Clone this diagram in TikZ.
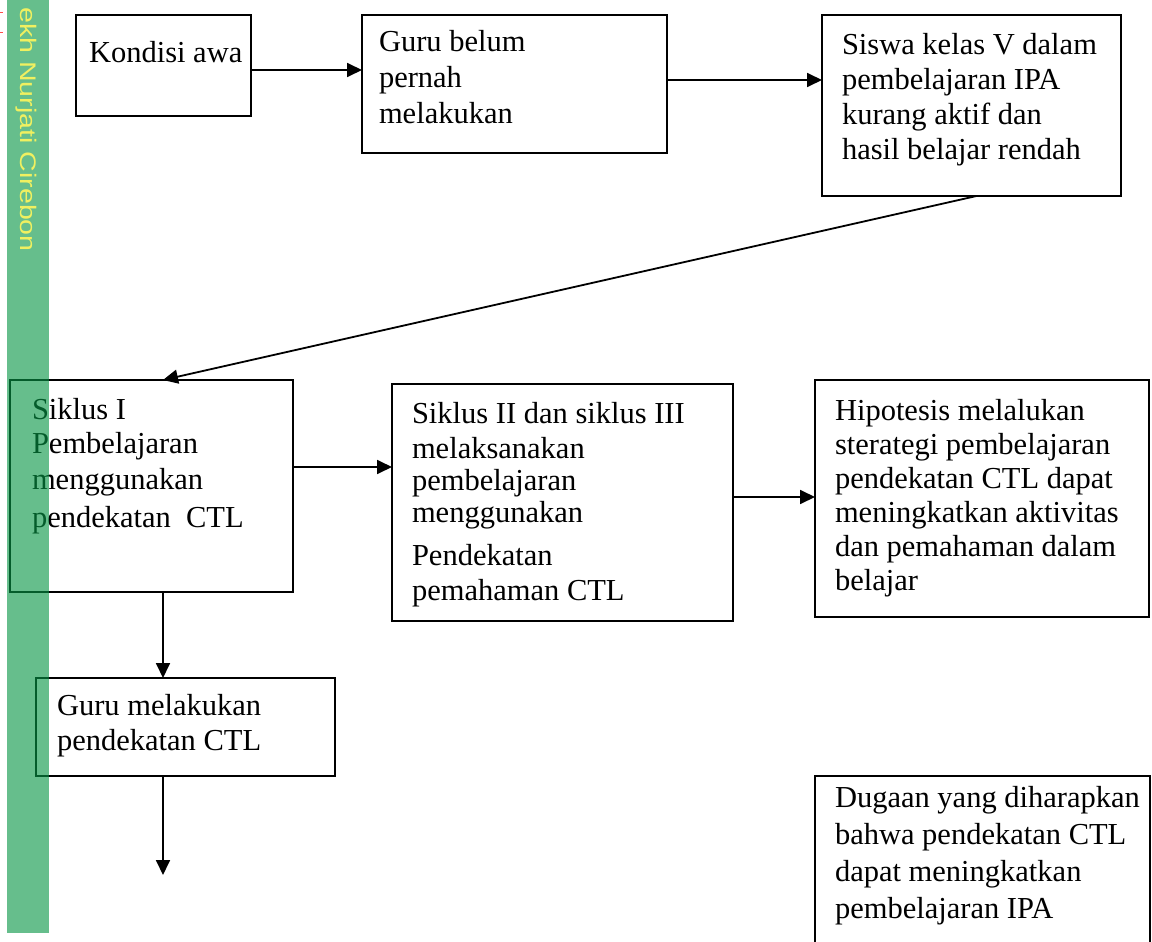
\documentclass[tikz,border=0pt]{standalone}
\usepackage{fontspec}
\setmainfont{Liberation Serif}
\setsansfont{Liberation Sans}
\usetikzlibrary{arrows.meta,calc}
\definecolor{barg}{RGB}{8,150,70}
\definecolor{wmy}{RGB}{240,240,96}
\newcommand{\boxtext}[1]{\parbox[t]{420pt}{\raggedright #1}}
\begin{document}
\begin{tikzpicture}[x=1pt,y=-1pt,
  box/.style={draw=black, line width=1.8pt, inner sep=0pt, outer sep=0pt, anchor=north west},
  txt/.style={anchor=base west, inner sep=0pt, outer sep=0pt, font=\fontsize{30.5}{35}\selectfont},
  arr/.style={line width=1.8pt, -{Triangle[length=15pt,width=14pt]}}]
\useasboundingbox (0,0) rectangle (1152,942);

% boxes
\node[box, minimum width=175pt, minimum height=101pt] (b1) at (76,15) {};
\node[box, minimum width=305pt, minimum height=138pt] (b2) at (362,15) {};
\node[box, minimum width=299pt, minimum height=181pt] (b3) at (822,15) {};
\node[box, minimum width=283pt, minimum height=212pt] (b4) at (10,380) {};
\node[box, minimum width=341pt, minimum height=237pt] (b5) at (392,384) {};
\node[box, minimum width=334pt, minimum height=237pt] (b6) at (815,380) {};
\node[box, minimum width=299pt, minimum height=98pt] (b7) at (36,678) {};
\node[box, minimum width=335pt, minimum height=200pt] (b8) at (815,776) {};

% texts
\node[txt] (t1) at (89,63) {\boxtext{Kondisi awa}};
\node[txt] (t2) at (379,52) {\boxtext{Guru belum\\[1pt] pernah\\[1pt] melakukan}};
\node[txt] (t3) at (842,55) {\boxtext{Siswa kelas V dalam\\ pembelajaran IPA\\ kurang aktif dan\\ hasil belajar rendah}};
\node[txt] (t4) at (32,419) {\boxtext{Siklus I\\[-1pt] Pembelajaran\\[1pt] menggunakan\\[3pt] pendekatan\ \ CTL}};
\node[txt] (t5) at (412,423) {\boxtext{Siklus II dan siklus III\\ melaksanakan\\[-3pt] pembelajaran\\[-3pt] menggunakan\\[8pt] Pendekatan\\ pemahaman CTL}};
\node[txt] (t6) at (835,420) {\boxtext{Hipotesis melalukan\\[-1pt] sterategi pembelajaran\\[-1pt] pendekatan CTL dapat\\[-1pt] meningkatkan aktivitas\\[-1pt] dan pemahaman dalam\\[-1pt] belajar}};
\node[txt] (t7) at (57,715) {\boxtext{Guru melakukan\\ pendekatan CTL}};
\node[txt] (t8) at (835,807) {\boxtext{Dugaan yang diharapkan\\[2pt] bahwa pendekatan CTL\\[2pt] dapat meningkatkan\\[2pt] pembelajaran IPA}};

% connectors
\draw[arr] ([yshift=-4.5pt]b1.east) -- ([yshift=-4.5pt]b1.east -| b2.west);
\draw[arr] ([yshift=4pt]b2.east) -- ([yshift=4pt]b2.east -| b3.west);
\draw[arr] ([xshift=5pt]b3.south) -- ([xshift=11.5pt]b4.north);
\draw[arr] ([yshift=19pt]b4.east) -- ([yshift=19pt]b4.east -| b5.west);
\draw[arr] ([yshift=5.5pt]b5.east) -- ([yshift=5.5pt]b5.east -| b6.west);
\draw[arr] ([xshift=11.5pt]b4.south) -- ([xshift=11.5pt]b4.south |- b7.north);
\coordinate (e7) at (163,875);
\draw[arr] (b7.south -| e7) -- (e7);

% watermark bar
\fill[barg, opacity=0.62] (7,0) rectangle (49,933);
\node[rotate=-90, anchor=east, inner sep=0pt, text=wmy, font=\fontsize{22.5}{22.5}\sffamily] (wm) at (26,252) {\scalebox{1.27}[1]{ekh Nurjati Cirebon}};
\draw[red!70, line width=1pt] (0,13) -- (3,13) (0,33) -- (3,33);
\end{tikzpicture}
\end{document}
